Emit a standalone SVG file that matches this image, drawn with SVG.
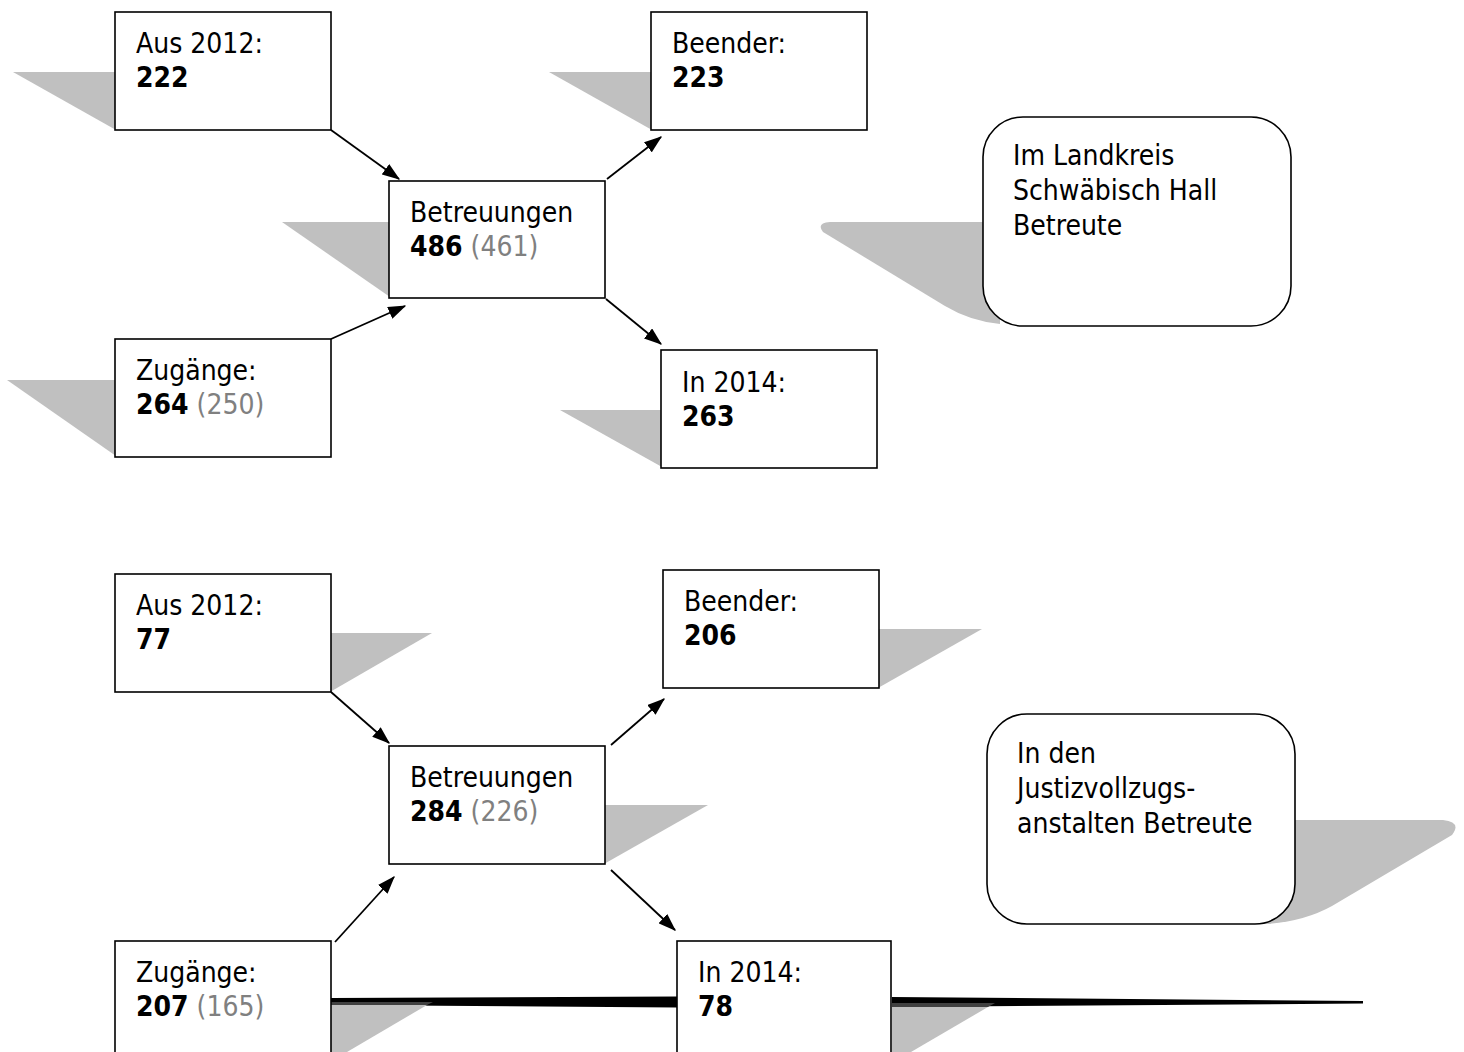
<svg xmlns="http://www.w3.org/2000/svg" width="1464" height="1052" viewBox="0 0 1464 1052">
<defs>
<style>
.box{fill:#fff;stroke:#000;stroke-width:1.6}
.sh{fill:#c0c0c0;stroke:none}
.t{font-family:'DejaVu Sans Condensed','DejaVu Sans',sans-serif;font-stretch:condensed;font-size:28px;fill:#000}
.b{font-weight:bold}
.g{fill:#808080}
.c{stroke:#000;stroke-width:1.8;fill:none;marker-end:url(#ah)}
</style>
<marker id="ah" viewBox="0 0 14 10" refX="13" refY="5" markerWidth="18" markerHeight="13" markerUnits="userSpaceOnUse" orient="auto">
<path d="M0,0 L14,5 L0,10 Z" fill="#000"/>
</marker>
</defs>
<rect width="1464" height="1052" fill="#fff"/>

<!-- decorative bottom line -->
<g id="bottom-line">
<polygon points="331,998 677,996.5 677,1007.5 331,1005" fill="#000"/>
<polygon points="331,1002 433,1002 427,1005 331,1005" fill="#404040"/>
<polygon class="sh" points="331,1005 427,1005 347,1052 331,1052"/>
<polygon points="892,997 1363,1001 1363,1003.5 892,1007" fill="#000"/>
<polygon points="892,1003 995,1003 988,1007 892,1007" fill="#404040"/>
<polygon class="sh" points="892,1007 988,1007 911,1052 892,1052"/>
</g>

<!-- top section -->
<g id="a1">
<polygon class="sh" points="13,72 116,72 116,130"/>
<rect class="box" x="115" y="12" width="216" height="118"/>
<text class="t" x="136" y="53">Aus 2012:</text>
<text class="t b" x="136" y="87">222</text>
</g>
<g id="b1">
<polygon class="sh" points="549,72 652,72 652,130"/>
<rect class="box" x="651" y="12" width="216" height="118"/>
<text class="t" x="672" y="53">Beender:</text>
<text class="t b" x="672" y="87">223</text>
</g>
<g id="c1">
<polygon class="sh" points="282,222 390,222 390,297"/>
<rect class="box" x="389" y="181" width="216" height="117"/>
<text class="t" x="410" y="222">Betreuungen</text>
<text class="t" x="410" y="256"><tspan class="b">486</tspan> <tspan class="g">(461)</tspan></text>
</g>
<g id="d1">
<polygon class="sh" points="7,380 116,380 116,456"/>
<rect class="box" x="115" y="339" width="216" height="118"/>
<text class="t" x="136" y="380">Zugänge:</text>
<text class="t" x="136" y="414"><tspan class="b">264</tspan> <tspan class="g">(250)</tspan></text>
</g>
<g id="e1">
<polygon class="sh" points="560,410 662,410 662,467"/>
<rect class="box" x="661" y="350" width="216" height="118"/>
<text class="t" x="682" y="392">In 2014:</text>
<text class="t b" x="682" y="426">263</text>
</g>
<g id="f1">
<path class="sh" d="M1000,222 L830,222 Q816,223 823,232 L945,306 Q970,321 1000,324 Z"/>
<rect class="box" x="983" y="117" width="308" height="209" rx="40" ry="40"/>
<text class="t" x="1013" y="165">Im Landkreis</text>
<text class="t" x="1013" y="200">Schwäbisch Hall</text>
<text class="t" x="1013" y="235">Betreute</text>
</g>

<!-- bottom section -->
<g id="a2">
<polygon class="sh" points="330,633 432,633 330,692"/>
<rect class="box" x="115" y="574" width="216" height="118"/>
<text class="t" x="136" y="615">Aus 2012:</text>
<text class="t b" x="136" y="649">77</text>
</g>
<g id="b2">
<polygon class="sh" points="878,629 982,629 878,688"/>
<rect class="box" x="663" y="570" width="216" height="118"/>
<text class="t" x="684" y="611">Beender:</text>
<text class="t b" x="684" y="645">206</text>
</g>
<g id="c2">
<polygon class="sh" points="604,805 708,805 604,864"/>
<rect class="box" x="389" y="746" width="216" height="118"/>
<text class="t" x="410" y="787">Betreuungen</text>
<text class="t" x="410" y="821"><tspan class="b">284</tspan> <tspan class="g">(226)</tspan></text>
</g>
<g id="d2">
<rect class="box" x="115" y="941" width="216" height="130"/>
<text class="t" x="136" y="982">Zugänge:</text>
<text class="t" x="136" y="1016"><tspan class="b">207</tspan> <tspan class="g">(165)</tspan></text>
</g>
<g id="e2">
<rect class="box" x="677" y="941" width="214" height="130"/>
<text class="t" x="698" y="982">In 2014:</text>
<text class="t b" x="698" y="1016">78</text>
</g>
<g id="f2">
<path class="sh" d="M1260,820 L1443,820 Q1462,822 1452,835 L1332,906 Q1305,921 1268,924 L1260,924 Z"/>
<rect class="box" x="987" y="714" width="308" height="210" rx="40" ry="40"/>
<text class="t" x="1017" y="763">In den</text>
<text class="t" x="1017" y="798">Justizvollzugs-</text>
<text class="t" x="1017" y="833">anstalten Betreute</text>
</g>

<g id="connectors">
<line class="c" x1="331" y1="130" x2="399" y2="179"/>
<line class="c" x1="607" y1="179" x2="661" y2="137"/>
<line class="c" x1="331" y1="339" x2="405" y2="306"/>
<line class="c" x1="606" y1="299" x2="661" y2="344"/>
<line class="c" x1="331" y1="692" x2="389" y2="743"/>
<line class="c" x1="611" y1="745" x2="664" y2="699"/>
<line class="c" x1="335" y1="942" x2="394" y2="877"/>
<line class="c" x1="611" y1="870" x2="675" y2="930"/>
</g>
</svg>
